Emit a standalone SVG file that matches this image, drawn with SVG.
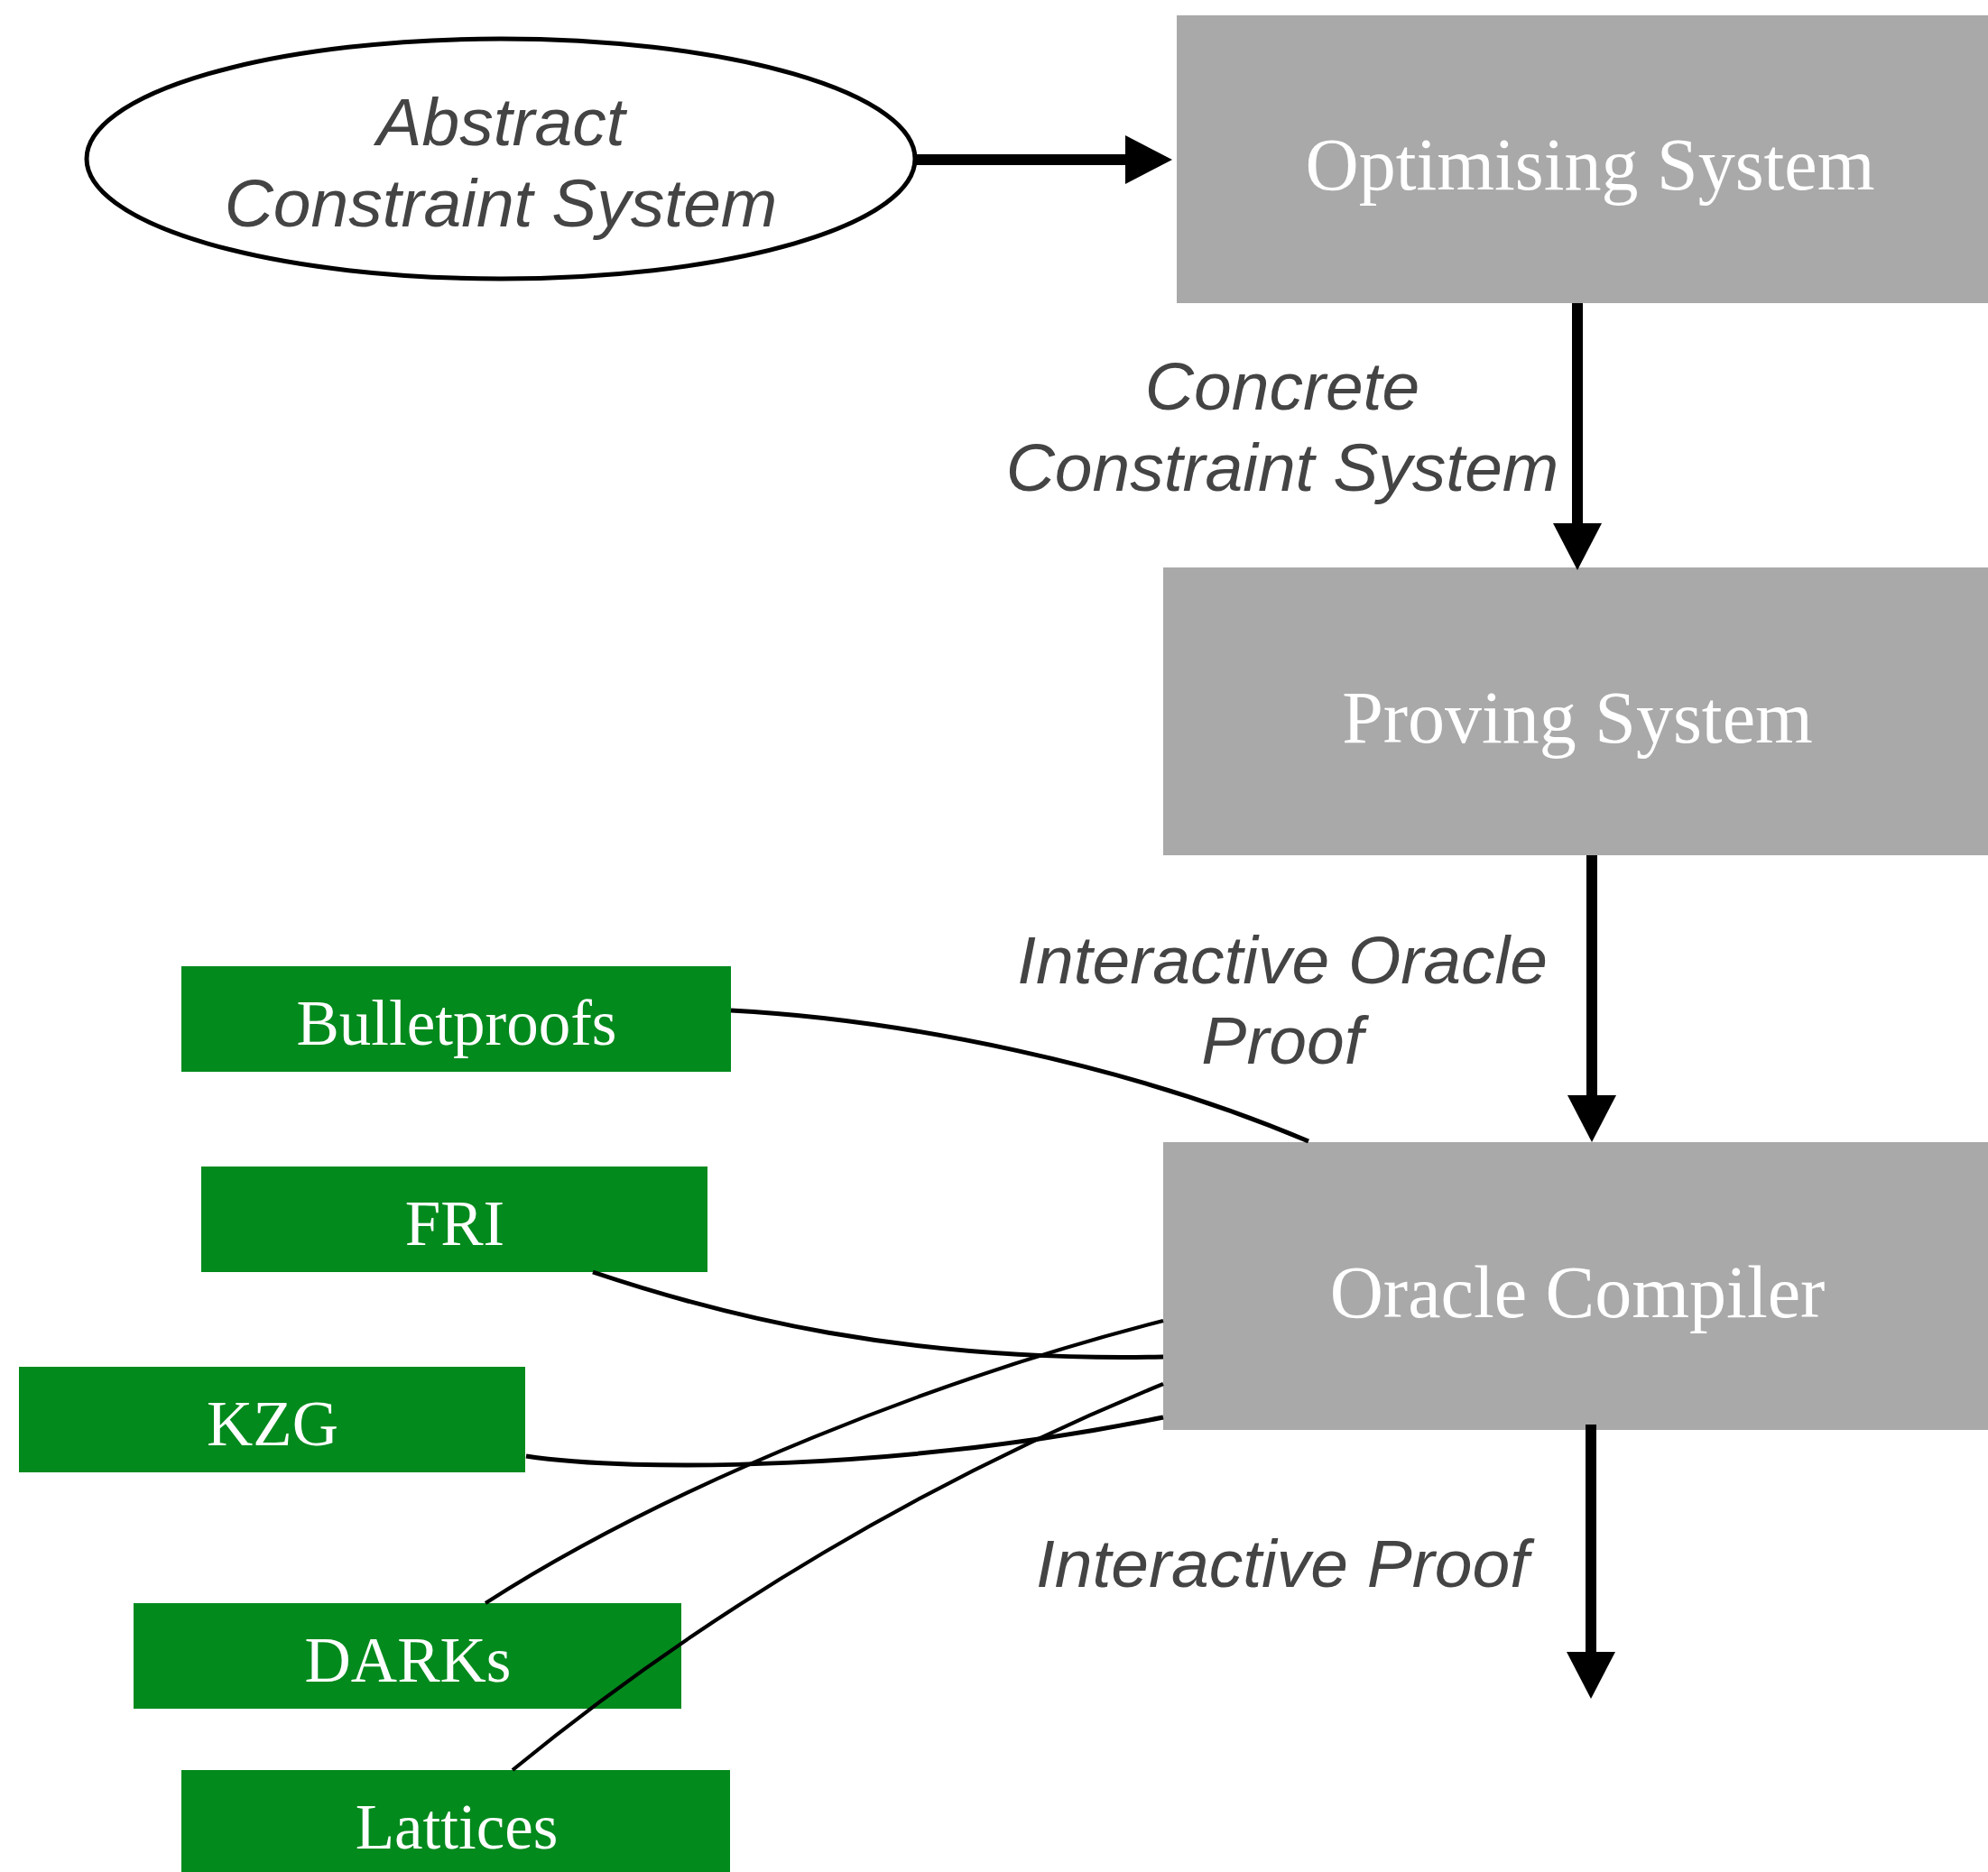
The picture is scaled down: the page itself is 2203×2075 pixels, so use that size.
<svg xmlns="http://www.w3.org/2000/svg" width="2203" height="2075" viewBox="0 0 2203 2075">
  <defs>
    <style>
      .proc { fill: #a9a9a9; }
      .tech { fill: #028a1d; }
      .proc-label { font-family: "Liberation Serif", "DejaVu Serif", serif; font-size: 82px; fill: #ffffff; text-anchor: middle; }
      .tech-label { font-family: "Liberation Serif", "DejaVu Serif", serif; font-size: 71px; fill: #ffffff; text-anchor: middle; }
      .edge-label { font-family: "Liberation Sans", Arial, sans-serif; font-style: italic; font-size: 75px; fill: #444444; text-anchor: middle; }
      .flow { stroke: #000000; stroke-width: 12; fill: none; marker-end: url(#head); }
      .link { stroke: #000000; stroke-width: 5; fill: none; }
      .link.thin { stroke-width: 4.2; }
    </style>
    <marker id="head" markerUnits="userSpaceOnUse" markerWidth="52" markerHeight="54" refX="0" refY="27" orient="auto">
      <path d="M0,0 L52,27 L0,54 Z" fill="#000000"/>
    </marker>
  </defs>
  <rect width="2203" height="2075" fill="#ffffff"/>

  <!-- nodes -->
  <g id="abstract">
    <ellipse cx="555" cy="176" rx="459" ry="133" fill="#ffffff" stroke="#000000" stroke-width="5"/>
    <text class="edge-label" x="555" y="161">Abstract</text>
    <text class="edge-label" x="555" y="251">Constraint System</text>
  </g>
  <g id="optimising">
    <rect class="proc" x="1304" y="17" width="916" height="319"/>
    <text class="proc-label" x="1762" y="210">Optimising System</text>
  </g>
  <g id="proving">
    <rect class="proc" x="1289" y="629" width="918" height="319"/>
    <text class="proc-label" x="1748" y="823">Proving System</text>
  </g>
  <g id="oracle">
    <rect class="proc" x="1289" y="1266" width="918" height="319"/>
    <text class="proc-label" x="1748" y="1460">Oracle Compiler</text>
  </g>
  <g id="bulletproofs">
    <rect class="tech" x="201" y="1071" width="609" height="117"/>
    <text class="tech-label" x="506" y="1158">Bulletproofs</text>
  </g>
  <g id="fri">
    <rect class="tech" x="223" y="1293" width="561" height="117"/>
    <text class="tech-label" x="504" y="1380">FRI</text>
  </g>
  <g id="kzg">
    <rect class="tech" x="21" y="1515" width="561" height="117"/>
    <text class="tech-label" x="302" y="1602">KZG</text>
  </g>
  <g id="darks">
    <rect class="tech" x="148" y="1777" width="607" height="117"/>
    <text class="tech-label" x="452" y="1864">DARKs</text>
  </g>
  <g id="lattices">
    <rect class="tech" x="201" y="1962" width="608" height="117"/>
    <text class="tech-label" x="506" y="2049">Lattices</text>
  </g>

  <!-- connectors -->
  <g id="edges">
    <line class="flow" x1="1014" y1="177" x2="1247" y2="177"/>
    <line class="flow" x1="1748" y1="336" x2="1748" y2="580"/>
    <line class="flow" x1="1764" y1="948" x2="1764" y2="1214"/>
    <line class="flow" x1="1763" y1="1579" x2="1763" y2="1831"/>

    <path class="link" d="M810,1120 C1000,1130 1250,1180 1450,1265"/>
    <path class="link" d="M657,1410 C800,1458 1000,1510 1289,1504"/>
    <path class="link" d="M583,1614 C700,1632 1000,1630 1289,1571"/>
    <path class="link thin" d="M538,1777 C748,1642 1047,1526 1289,1464"/>
    <path class="link thin" d="M568,1962 C785,1784 1030,1640 1289,1534"/>

    <text class="edge-label" x="1421" y="454">Concrete</text>
    <text class="edge-label" x="1421" y="544">Constraint System</text>
    <text class="edge-label" x="1421" y="1090">Interactive Oracle</text>
    <text class="edge-label" x="1421" y="1179">Proof</text>
    <text class="edge-label" x="1421" y="1759">Interactive Proof</text>
  </g>
</svg>
